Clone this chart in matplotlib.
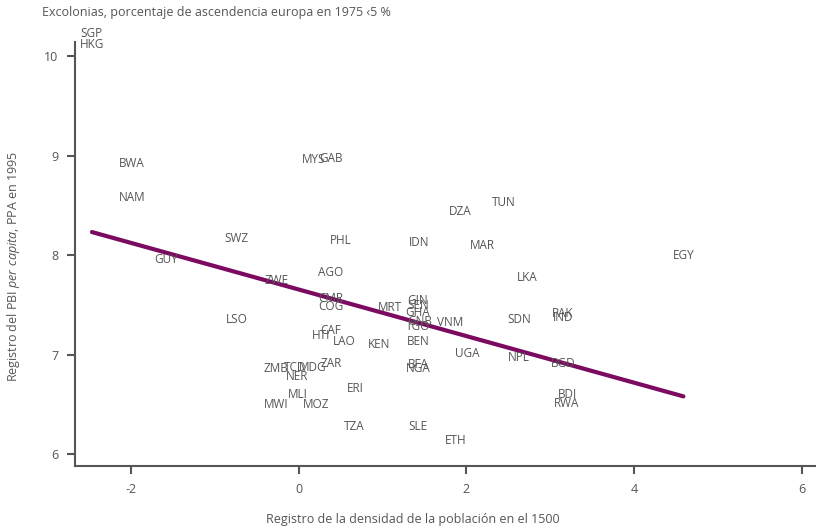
import matplotlib
matplotlib.use("Agg")
import matplotlib.pyplot as plt
import numpy as np

plt.rcParams['font.family'] = ['Open Sans', 'DejaVu Sans']
plt.rcParams['mathtext.fontset'] = 'custom'
plt.rcParams['mathtext.it'] = 'Open Sans:italic'
plt.rcParams['mathtext.rm'] = 'Open Sans'
plt.rcParams['axes.unicode_minus'] = False

# country codes with log population density 1500 and log GDP per capita 1995
codes = ['SGP', 'HKG', 'BWA', 'NAM', 'MYS', 'GAB', 'SWZ', 'GUY', 'PHL', 'AGO',
         'ZWE', 'DZA', 'TUN', 'IDN', 'MAR', 'EGY', 'LKA', 'CMR', 'COG', 'LSO',
         'MRT', 'GIN', 'SEN', 'GHA', 'GNB', 'TGO', 'VNM', 'SDN', 'PAK', 'IND',
         'CAF', 'HTI', 'LAO', 'KEN', 'BEN', 'UGA', 'NPL', 'BGD', 'ZAR', 'BFA',
         'NGA', 'ZMB', 'TCD', 'MDG', 'NER', 'ERI', 'BDI', 'RWA', 'MLI', 'MWI',
         'MOZ', 'TZA', 'SLE', 'ETH']
densidad = [-2.47, -2.47, -1.99, -1.99, 0.18, 0.38, -0.74, -1.59, 0.50, 0.38,
            -0.27, 1.92, 2.44, 1.44, 2.19, 4.59, 2.72, 0.38, 0.38, -0.74,
            1.09, 1.42, 1.42, 1.42, 1.44, 1.42, 1.80, 2.63, 3.15, 3.15,
            0.38, 0.27, 0.54, 0.96, 1.42, 2.01, 2.63, 3.15, 0.38, 1.42,
            1.42, -0.27, -0.04, 0.17, -0.02, 0.67, 3.21, 3.20, -0.01, -0.27,
            0.21, 0.66, 1.42, 1.87]
pbi = [10.23, 10.12, 8.92, 8.58, 8.96, 8.97, 8.17, 7.96, 8.15, 7.83,
       7.74, 8.44, 8.53, 8.13, 8.10, 8.00, 7.78, 7.56, 7.48, 7.35,
       7.47, 7.54, 7.49, 7.42, 7.33, 7.28, 7.32, 7.35, 7.41, 7.37,
       7.24, 7.19, 7.13, 7.10, 7.13, 7.01, 6.97, 6.91, 6.91, 6.90,
       6.86, 6.86, 6.87, 6.87, 6.78, 6.66, 6.60, 6.51, 6.60, 6.50,
       6.50, 6.28, 6.28, 6.14]

# fitted line
intercepto = 7.654
pendiente = -0.234

gris = '#555555'
morado = '#7b0a60'

fig = plt.figure(figsize=(8.17, 5.28), dpi=100)
ax = fig.add_axes([0.092, 0.1174, 0.9055, 0.8026])

x = np.array(densidad)
xs = np.array([x.min(), x.max()])
ax.plot(xs, intercepto + pendiente * xs, color=morado, lw=3, solid_capstyle='round', zorder=1)

for c, xi, yi in zip(codes, densidad, pbi):
    ax.text(xi, yi, c, ha='center', va='center', fontsize=8.5, color=gris, zorder=2)

ax.set_xlim(-2.67, 6.16)
ax.set_ylim(5.88, 10.14)
ax.set_xticks([-2, 0, 2, 4, 6])
ax.set_yticks([6, 7, 8, 9, 10])

for s in ['top', 'right']:
    ax.spines[s].set_visible(False)
for s in ['left', 'bottom']:
    ax.spines[s].set_color(gris)
    ax.spines[s].set_linewidth(1.5)
ax.tick_params(colors=gris, width=1.5, length=6, labelsize=9, pad=6)

fig.text(0.5055, 0.017, 'Registro de la densidad de la población en el 1500',
         fontsize=9, color=gris, ha='center', va='center')
fig.text(0.017, 0.495, r'Registro del PBI $\it{per\ capita}$, PPA en 1995',
         fontsize=9, color=gris, ha='center', va='center', rotation=90)
fig.text(0.051, 0.977, 'Excolonias, porcentaje de ascendencia europa en 1975 ‹5 %',
         fontsize=9, color=gris, ha='left', va='center')

fig.savefig('out.png', dpi=100)
